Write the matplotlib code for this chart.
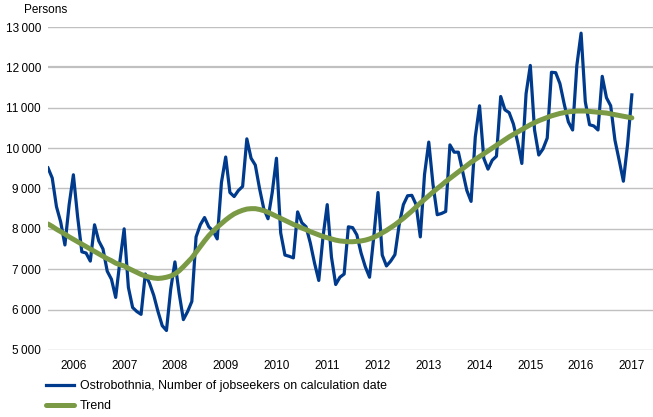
import matplotlib
matplotlib.use('Agg')
import matplotlib.pyplot as plt
import numpy as np

plt.rcParams['font.family'] = ['Liberation Sans', 'DejaVu Sans']

# monthly values, Jul 2005 .. Jan 2017
jobseekers = [
    9510, 9260, 8550, 8170, 7600, 8600, 9340, 8300, 7430, 7400, 7200, 8100,
    7700, 7500, 6950, 6750, 6300, 7200, 8000, 6550, 6050, 5950, 5880, 6880,
    6650, 6350, 5950, 5600, 5480, 6500, 7180, 6400, 5750, 5950, 6200, 7800,
    8100, 8280, 8050, 7950, 7750, 9150, 9780, 8900, 8800, 8950, 9050, 10230,
    9750, 9580, 9000, 8500, 8250, 8900, 9750, 7900, 7350, 7320, 7280, 8420,
    8150, 8050, 7650, 7150, 6720, 7800, 8600, 7300, 6620, 6800, 6880, 8050,
    8030, 7850, 7400, 7060, 6800, 7800, 8900, 7350, 7080, 7200, 7360, 8100,
    8600, 8820, 8830, 8600, 7800, 9350, 10150, 9100, 8350, 8380, 8430, 10080,
    9900, 9900, 9420, 8950, 8680, 10280, 11050, 9750, 9480, 9700, 9800, 11280,
    10950, 10880, 10600, 10150, 9620, 11350, 12050, 10450, 9830, 9980, 10250, 11880,
    11870, 11600, 11100, 10650, 10450, 12050, 12850, 11150, 10580, 10550, 10450, 11780,
    11250, 11050, 10200, 9700, 9180, 10100, 11320,
]
trend = [
    8120, 8060, 7990, 7930, 7870, 7800, 7740, 7680, 7620, 7560, 7500, 7440,
    7380, 7320, 7260, 7210, 7150, 7110, 7080, 7020, 6970, 6920, 6870, 6830,
    6800, 6780, 6770, 6780, 6800, 6830, 6880, 6960, 7060, 7170, 7280, 7420,
    7560, 7700, 7830, 7940, 8040, 8130, 8220, 8300, 8370, 8420, 8460, 8490,
    8500, 8500, 8480, 8450, 8410, 8360, 8310, 8260, 8210, 8160, 8110, 8070,
    8020, 7980, 7930, 7890, 7850, 7810, 7780, 7750, 7720, 7700, 7690, 7680,
    7680, 7690, 7700, 7720, 7750, 7790, 7840, 7900, 7960, 8030, 8100, 8180,
    8260, 8350, 8440, 8540, 8640, 8730, 8820, 8910, 9000, 9080, 9170, 9250,
    9330, 9410, 9490, 9570, 9650, 9720, 9790, 9860, 9930, 10000, 10070, 10140,
    10210, 10280, 10340, 10400, 10460, 10520, 10580, 10630, 10680, 10720, 10760, 10800,
    10830, 10860, 10880, 10900, 10910, 10920, 10920, 10920, 10910, 10900, 10890, 10880,
    10870, 10850, 10830, 10810, 10790, 10770, 10750,
]
years = [str(y) for y in range(2006, 2018)]
yticks = [5000, 6000, 7000, 8000, 9000, 10000, 11000, 12000, 13000]

months = np.arange(len(jobseekers))
year_pos = [6 + 12 * k for k in range(len(years))]

fig = plt.figure(figsize=(6.53, 4.17), dpi=100)
ax = fig.add_axes([0.0735, 0.161, 0.9265, 0.774])

for v in yticks:
    lw = 1.6 if v == 12000 else 1.0
    ax.axhline(v, color='#c0c0c0', lw=lw, zorder=0)

ax.plot(months, jobseekers, color='#003a8c', lw=2.3, solid_joinstyle='round',
        label='Ostrobothnia, Number of jobseekers on calculation date', zorder=3)
ax.plot(months, trend, color='#7a9a45', lw=3.6, solid_capstyle='round',
        label='Trend', zorder=4)

ax.set_xlim(0, 143)
ax.set_ylim(5000, 13000)
ax.set_yticks(yticks)
ax.set_yticklabels([f'{v:,}'.replace(',', '\u2009') for v in yticks], fontsize=8.5)
ax.set_xticks(year_pos)
ax.set_xticklabels(years, fontsize=8.5)
ax.tick_params(length=0)
ax.tick_params(axis='y', pad=5)
ax.tick_params(axis='x', pad=7)
for s in ax.spines.values():
    s.set_visible(False)

fig.text(0.037, 0.99, 'Persons', fontsize=8.5, va='top')

leg = fig.legend(loc='upper left', bbox_to_anchor=(0.071, 0.089), frameon=False,
                 fontsize=8.9, handlelength=2.2, handletextpad=0.5,
                 labelspacing=0.65, borderpad=0, borderaxespad=0)

fig.savefig('out.png', dpi=100)
